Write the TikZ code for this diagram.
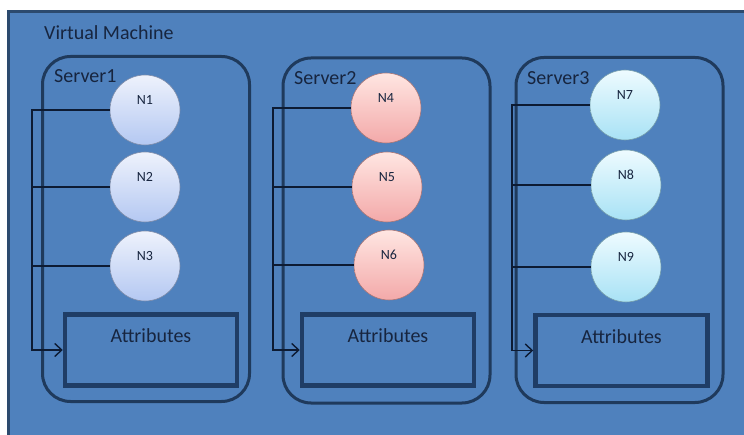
\documentclass[tikz,border=0pt]{standalone}
\usepackage{fontspec}
\setmainfont{Carlito}
\usetikzlibrary{arrows.meta}
\definecolor{vmblue}{HTML}{4F81BD}
\definecolor{vmline}{HTML}{2C4A6E}
\definecolor{srvline}{HTML}{1F3A5C}
\definecolor{attrline}{HTML}{1F3D66}
\definecolor{wire}{HTML}{0D1B33}
\definecolor{txtnavy}{HTML}{17253F}
\definecolor{bluetop}{HTML}{EEF2FC}
\definecolor{bluebot}{HTML}{B4C8F2}
\definecolor{pinktop}{HTML}{FFE6E2}
\definecolor{pinkbot}{HTML}{F3A9A9}
\definecolor{cyantop}{HTML}{EEFBFF}
\definecolor{cyanbot}{HTML}{A8E2F5}
\begin{document}
\begin{tikzpicture} [x=1pt, y=-1pt,
                    every node/.style={text=txtnavy, font=\fontsize{20}{24}\selectfont},
                    txt_style/.style={inner sep=0pt, anchor=base west},
                    server_style/.style={draw=srvline, line width=3pt, rounded corners=28pt, minimum width=207pt, minimum height=345pt},
                    attr_style/.style={draw=attrline, line width=4.5pt, minimum width=172pt, minimum height=71pt,
                                       label={[anchor=north, yshift=-13pt]north:Attributes}},
                    host_style/.style={circle, draw=#1, line width=0.6pt, minimum size=70pt, text height=9pt, text depth=20pt,
                                       font=\fontsize{14}{15}\selectfont},
                    blue_style/.style={host_style=bluebot!70!black, top color=bluetop, bottom color=bluebot},
                    pink_style/.style={host_style=pinkbot!70!black, top color=pinktop, bottom color=pinkbot},
                    cyan_style/.style={host_style=cyanbot!70!black, top color=cyantop, bottom color=cyanbot},
                    edge_style/.style={draw=wire, line width=1.4pt}]
                    \useasboundingbox (0,0) rectangle (744,435);
                    \fill[white] (0,0) rectangle (744,435);
                    \fill[vmblue] (8,12) rectangle (744,435);
                    \draw[vmline, line width=3pt] (8,435) -- (8,12) -- (744,12);
                    \node (vm) [txt_style] at (44,40) {Virtual Machine};
                    % servers
                    \node (s1) [server_style] at (146,229) {};
                    \node (s2) [server_style] at (386.5,230.5) {};
                    \node (s3) [server_style] at (619.5,230) {};
                    \node (l1) [txt_style] at (54,83) {Server1};
                    \node (l2) [txt_style] at (294,85) {Server2};
                    \node (l3) [txt_style] at (527,85) {Server3};
                    \node (a1) [attr_style] at (151,350) {};
                    \node (a2) [attr_style] at (388,350) {};
                    \node (a3) [attr_style] at (621.5,350.5) {};
                    % hosts
                    \node (n1) [blue_style] at (145,110) {N1};
                    \node (n2) [blue_style] at (145,187) {N2};
                    \node (n3) [blue_style] at (145,266) {N3};
                    \node (n4) [pink_style] at (386,108) {N4};
                    \node (n5) [pink_style] at (387,187) {N5};
                    \node (n6) [pink_style] at (389,265) {N6};
                    \node (n7) [cyan_style] at (625,105) {N7};
                    \node (n8) [cyan_style] at (626,185) {N8};
                    \node (n9) [cyan_style] at (626,267) {N9};
                    \coordinate (j1) at (32,110);
                    \coordinate (j2) at (273,108);
                    \coordinate (j3) at (512,105);
                    % links
                    \draw[edge_style, -{Straight Barb[length=7pt,width=13pt]}] (n1.west) -- (j1) |- (a1.west);
                    \draw[edge_style] (n2.west) -- (n2.west -| j1);
                    \draw[edge_style] (n3.west) -- (n3.west -| j1);
                    \draw[edge_style, -{Straight Barb[length=7pt,width=13pt]}] (n4.west) -- (j2) |- (a2.west);
                    \draw[edge_style] (n5.west) -- (n5.west -| j2);
                    \draw[edge_style] (n6.west) -- (n6.west -| j2);
                    \draw[edge_style, -{Straight Barb[length=7pt,width=13pt]}] (n7.west) -- (j3) |- (a3.west);
                    \draw[edge_style] (n8.west) -- (n8.west -| j3);
                    \draw[edge_style] (n9.west) -- (n9.west -| j3);
                \end{tikzpicture}
\end{document}
